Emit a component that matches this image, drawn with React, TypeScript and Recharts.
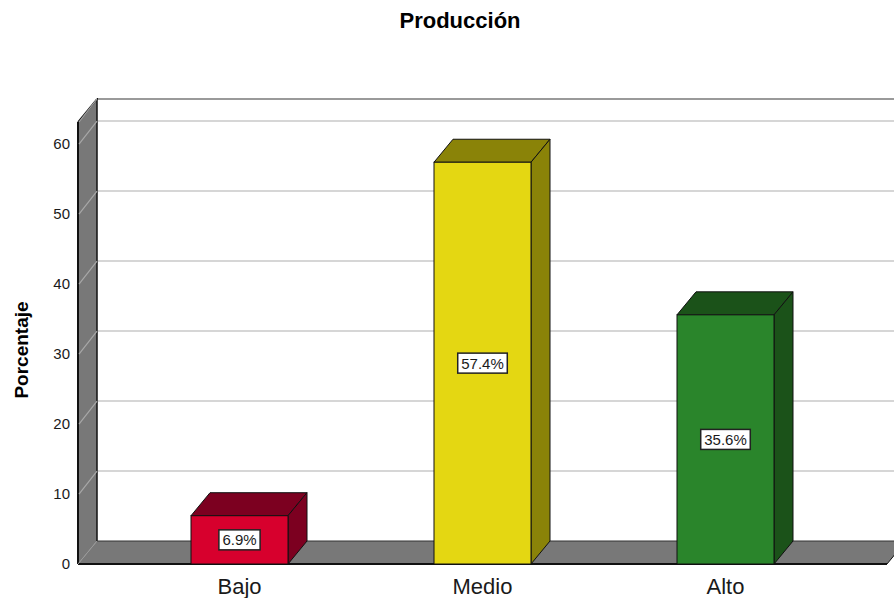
import { BarChart, Bar, XAxis, YAxis, CartesianGrid, LabelList } from 'recharts'

const categories = ['Bajo', 'Medio', 'Alto']
const percentages = [6.9, 57.4, 35.6]
const yTicks = [0, 10, 20, 30, 40, 50, 60]
const yMax = 63.15

const FRONT_COLORS = ['#d7002d', '#e4d712', '#2a852b']
const DARK_COLORS = ['#7c0020', '#8a8308', '#1b5219']
const WALL = '#787878'
const EDGE = '#111'

// depth of the 3D effect
const DX = 19
const DY = 23

const data = categories.map((name, i) => ({ name, value: percentages[i] }))

function Box3D(props: any) {
    const { x, y, width, height, index } = props
    const r = x + width
    const b = y + height
    return (
        <g>
            <polygon points={`${x},${y} ${x + DX},${y - DY} ${r + DX},${y - DY} ${r},${y}`} fill={DARK_COLORS[index]} stroke={EDGE} strokeWidth={1} />
            <polygon points={`${r},${y} ${r + DX},${y - DY} ${r + DX},${b - DY} ${r},${b}`} fill={DARK_COLORS[index]} stroke={EDGE} strokeWidth={1} />
            <rect x={x} y={y} width={width} height={height} fill={FRONT_COLORS[index]} stroke={EDGE} strokeWidth={1} />
        </g>
    )
}

// grid lines go on the back wall, with a diagonal across the side wall
function GridLine(props: any) {
    const { x1, y1, x2, index, y, height } = props
    const top = y
    const bottom = y + height
    const isFloor = Math.abs(y1 - bottom) < 0.5
    return (
        <g>
            {index === 0 && (
                <g>
                    <polygon points={`${x1},${top} ${x1 + DX},${top - DY} ${x1 + DX},${bottom - DY} ${x1},${bottom}`} fill={WALL} />
                    <polygon points={`${x1},${bottom} ${x2},${bottom} ${x2 + DX},${bottom - DY} ${x1 + DX},${bottom - DY}`} fill={WALL} />
                    <line x1={x1 + DX} y1={top - DY} x2={x2 + DX} y2={top - DY} stroke={EDGE} strokeWidth={1.8} />
                    <line x1={x1} y1={top} x2={x1 + DX} y2={top - DY} stroke={EDGE} strokeWidth={1.5} />
                    <line x1={x1 + DX} y1={top - DY} x2={x1 + DX} y2={bottom - DY} stroke={EDGE} strokeWidth={1.5} />
                    <line x1={x1 + DX} y1={bottom - DY} x2={x2 + DX} y2={bottom - DY} stroke="#333" strokeWidth={1} />
                    <line x1={x2} y1={bottom} x2={x2 + DX} y2={bottom - DY} stroke={EDGE} strokeWidth={1} />
                    <line x1={x1} y1={top} x2={x1} y2={bottom} stroke={EDGE} strokeWidth={2} />
                    <line x1={x1} y1={bottom} x2={x2} y2={bottom} stroke={EDGE} strokeWidth={2} />
                    <line x1={x1} y1={bottom} x2={x1 + DX} y2={bottom - DY} stroke="#999" strokeWidth={1} />
                </g>
            )}
            {!isFloor && (
                <g>
                    <line x1={x1 + 1} y1={y1} x2={x1 + DX} y2={y1 - DY} stroke="#a8a8a8" strokeWidth={1.2} />
                    <line x1={x1 + DX + 1} y1={y1 - DY} x2={x2 + DX} y2={y1 - DY} stroke="#c8c8c8" strokeWidth={1.5} />
                </g>
            )}
        </g>
    )
}

function labelWidth(text: string) {
    let w = 0
    for (const ch of text) {
        if (ch === '.') w += 4.2
        else if (ch === '%') w += 13.3
        else w += 8.35
    }
    return w + 7
}

function PctLabel(props: any) {
    const { x, y, width, height, value } = props
    const cx = x + width / 2
    const cy = y + height / 2
    const text = `${Number(value).toFixed(1)}%`
    const w = labelWidth(text)
    return (
        <g>
            <rect x={cx - w / 2} y={cy - 10} width={w} height={20} fill="#fff" stroke="#222" strokeWidth={1.5} />
            <text x={cx} y={cy} dy="0.36em" textAnchor="middle" fontSize={15} fill="#1a1a1a">{text}</text>
        </g>
    )
}

function YTitle(props: any) {
    const { viewBox } = props
    const x = viewBox.x + 21
    const cy = viewBox.y + viewBox.height / 2 + 7
    return (
        <text x={x} y={cy} transform={`rotate(-90, ${x}, ${cy})`} textAnchor="middle" dominantBaseline="central"
            fontSize={19} fontWeight="bold" fill="#000">
            Porcentaje
        </text>
    )
}

export default function App() {
    return (
        <div style={{ position: 'absolute', left: 0, top: 0, width: 894, height: 598, background: '#fff', fontFamily: '"Liberation Sans", Arial, sans-serif' }}>
            <div style={{ position: 'absolute', top: 8, left: 460, transform: 'translateX(-50%)', fontSize: 22, fontWeight: 'bold', whiteSpace: 'nowrap', color: '#000' }}>
                Producción
            </div>
            <BarChart width={894} height={598} data={data} margin={{ top: 122, right: 7, bottom: 0, left: 0 }}
                style={{ fontFamily: '"Liberation Sans", Arial, sans-serif' }}>
                <CartesianGrid vertical={false} horizontal={GridLine as any} />
                <XAxis dataKey="name" axisLine={false} tickLine={false} height={34} tickMargin={8}
                    padding={{ left: 40, right: 40 }} tick={{ fontSize: 22, fill: '#1a1a1a' }} />
                <YAxis domain={[0, yMax]} ticks={yTicks} width={78} axisLine={false} tickLine={false}
                    tick={{ fontSize: 15, fill: '#1a1a1a' }} label={{ content: YTitle }} />
                <Bar dataKey="value" barSize={97} shape={Box3D} isAnimationActive={false}>
                    <LabelList dataKey="value" content={PctLabel} />
                </Bar>
            </BarChart>
        </div>
    )
}
